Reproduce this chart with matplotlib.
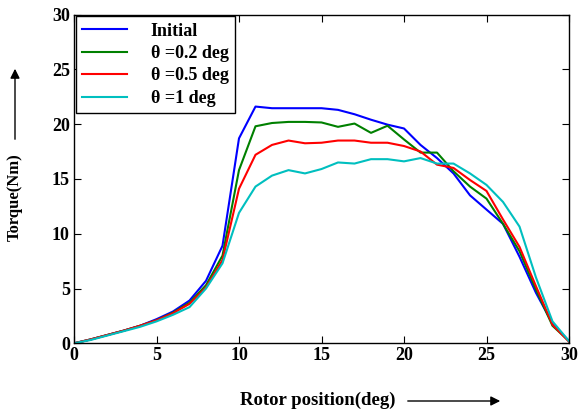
import matplotlib
matplotlib.use("Agg")
import matplotlib.pyplot as plt
import numpy as np

positions = list(range(0, 31))
initial = [0, 0.35, 0.75, 1.15, 1.6, 2.2, 2.9, 3.9, 5.7, 8.9, 18.7, 21.6, 21.45, 21.45, 21.45, 21.45,
           21.3, 20.9, 20.4, 19.95, 19.6, 18.1, 16.9, 15.5, 13.5, 12.2, 10.9, 7.9, 4.6, 1.8, 0.2]
theta_02 = [0, 0.35, 0.75, 1.15, 1.6, 2.1, 2.8, 3.7, 5.3, 8.0, 15.8, 19.8, 20.1, 20.2, 20.2, 20.15,
            19.75, 20.05, 19.2, 19.85, 18.6, 17.4, 17.4, 15.7, 14.3, 13.2, 10.9, 8.4, 4.9, 1.6, 0.2]
theta_05 = [0, 0.35, 0.75, 1.15, 1.6, 2.1, 2.75, 3.6, 5.1, 7.6, 14.1, 17.2, 18.1, 18.5, 18.25, 18.3,
            18.5, 18.5, 18.3, 18.3, 18.0, 17.5, 16.3, 16.0, 14.9, 13.9, 11.3, 8.8, 5.2, 1.7, 0.15]
theta_1 = [0, 0.3, 0.7, 1.1, 1.5, 2.0, 2.6, 3.3, 5.0, 7.3, 11.9, 14.3, 15.3, 15.8, 15.5, 15.9,
           16.5, 16.4, 16.8, 16.8, 16.6, 16.9, 16.4, 16.4, 15.5, 14.45, 12.9, 10.65, 6.0, 2.0, 0.2]
labels = ["Initial", "\u03b8 =0.2 deg", "\u03b8 =0.5 deg", "\u03b8 =1 deg"]
xticks = [0, 5, 10, 15, 20, 25, 30]
yticks = [0, 5, 10, 15, 20, 25, 30]

plt.rcParams['font.family'] = ['Liberation Serif', 'DejaVu Serif']
W, H = 578, 409
fig = plt.figure(figsize=(W / 100, H / 100), dpi=100)
ax = fig.add_axes([74 / W, 1 - 343.3 / H, (569 - 74) / W, (343.3 - 14.5) / H])

colors = ['#0000ff', '#008000', '#ff0000', '#00bfbf']
for ys, c, lab in zip([initial, theta_02, theta_05, theta_1], colors, labels):
    ax.plot(positions, ys, color=c, lw=1.5, label=lab)

ax.set_xlim(0, 30)
ax.set_ylim(0, 30)
ax.set_xticks(xticks)
ax.set_yticks(yticks)
ax.tick_params(direction='in', top=True, right=True, length=5, width=0.8,
               labelsize=13, pad=3)
for lbl in ax.get_xticklabels() + ax.get_yticklabels():
    lbl.set_fontweight('bold')
for s in ax.spines.values():
    s.set_linewidth(1.0)

leg = ax.legend(loc='upper left', bbox_to_anchor=(0.0, 1.0), frameon=True, fancybox=False,
                edgecolor='black', framealpha=1, handlelength=2.5, handletextpad=1.3,
                labelspacing=0.3, borderpad=0.35, borderaxespad=0.1,
                prop={'weight': 'bold', 'size': 13})
leg.get_frame().set_linewidth(1.0)

# axis labels with arrows
fig.text(318 / W, 1 - 400 / H, "Rotor position(deg)", ha='center', va='center',
         fontsize=13.5, fontweight='bold')
fig.add_artist(matplotlib.patches.FancyArrowPatch((405 / W, 1 - 401 / H), (503 / W, 1 - 401 / H),
               transform=fig.transFigure, arrowstyle='-|>', mutation_scale=14, lw=1.0,
               color='black'))
fig.text(15 / W, 1 - 197 / H, "Torque(Nm)", ha='center', va='center', rotation=90,
         fontsize=12, fontweight='bold')
fig.add_artist(matplotlib.patches.FancyArrowPatch((15 / W, 1 - 142 / H), (15 / W, 1 - 66 / H),
               transform=fig.transFigure, arrowstyle='-|>', mutation_scale=14, lw=1.0,
               color='black'))

fig.savefig("out.png", dpi=100)
